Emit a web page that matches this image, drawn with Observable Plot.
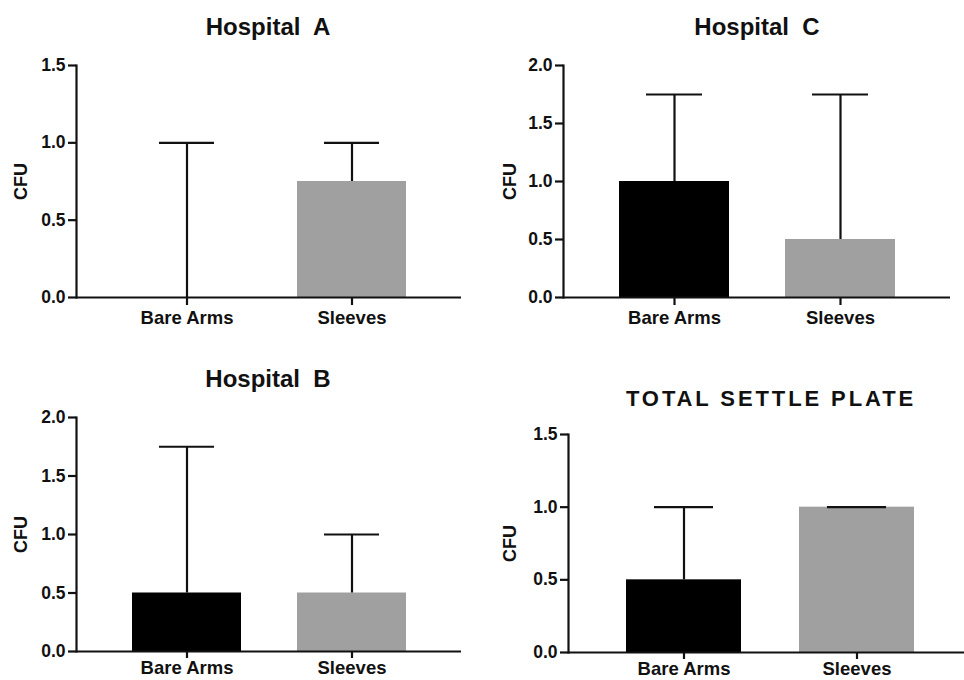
<!DOCTYPE html>
<html>
<head>
<meta charset="utf-8">
<script src="https://cdn.jsdelivr.net/npm/d3@7"></script>
<script src="https://cdn.jsdelivr.net/npm/@observablehq/plot@0.6"></script>
<style>
  html, body { margin: 0; padding: 0; background: #fff; }
  #wrap { position: relative; width: 964px; height: 680px; overflow: hidden; background: #fff;
          font-family: "Liberation Sans", Arial, Helvetica, sans-serif; }
  .panel { position: absolute; }
  .title { position: absolute; width: 360px; text-align: center; font-weight: bold; color: #111;
           font-size: 24px; line-height: 24px; white-space: pre; }
  .title.wide { font-size: 22px; letter-spacing: 2.9px; }
</style>
</head>
<body>
<div id="wrap"></div>
<script>
// ---- data ----
const groups = ["Bare Arms", "Sleeves"];
const barColors = ["#000000", "#a0a0a0"];

const titles = ["Hospital  A", "Hospital  C", "Hospital  B", "TOTAL SETTLE PLATE"];

const hospitalA_mean = [0.0, 0.75];
const hospitalA_err  = [1.0, 0.25];
const hospitalA_ticks = [0.0, 0.5, 1.0, 1.5];

const hospitalC_mean = [1.0, 0.5];
const hospitalC_err  = [0.75, 1.25];
const hospitalC_ticks = [0.0, 0.5, 1.0, 1.5, 2.0];

const hospitalB_mean = [0.5, 0.5];
const hospitalB_err  = [1.25, 0.5];
const hospitalB_ticks = [0.0, 0.5, 1.0, 1.5, 2.0];

const total_mean = [0.5, 1.0];
const total_err  = [0.5, 0.0];
const total_ticks = [0.0, 0.5, 1.0, 1.5];

const yLabel = "CFU";

// ---- drawing ----
const wrap = document.getElementById("wrap");

function panel(o) {
  const data = groups.map((g, i) => ({group: g, mean: o.means[i], top: o.means[i] + o.errs[i]}));
  const yMax = o.ticks[o.ticks.length - 1];
  const plot = Plot.plot({
    width: o.w, height: o.h,
    marginTop: o.mt, marginBottom: o.mb, marginLeft: o.ml, marginRight: o.mr,
    style: {fontFamily: '"Liberation Sans", Arial, Helvetica, sans-serif', fontWeight: "bold",
            fontSize: "17px", color: "#111", background: "transparent", overflow: "visible"},
    x: {domain: groups, paddingInner: o.pi, paddingOuter: o.po, label: null, axis: null},
    y: {domain: [0, yMax], label: null, axis: null},
    color: {domain: groups, range: barColors},
    marks: [
      Plot.barY(data, {x: "group", y: "mean", fill: "group"}),
      Plot.ruleX(data, {x: "group", y1: "mean", y2: "top", stroke: "#111", strokeWidth: 2.2}),
      Plot.tickY(data, {x: "group", y: "top", stroke: "#111", strokeWidth: 2.2, inset: o.capInset}),
      Plot.axisY({ticks: o.ticks, tickFormat: d3.format(".1f"), tickSize: 8, tickPadding: 3,
                  strokeWidth: 2.2, stroke: "#111", fontSize: 17.5, label: null}),
      Plot.axisX({tickSize: o.xts, tickPadding: o.xtp, strokeWidth: 2.2, stroke: "#111", fontSize: 18.5, label: null}),
      Plot.ruleY([0], {stroke: "#111", strokeWidth: 2.2}),
      Plot.frame({anchor: "left", stroke: "#111", strokeWidth: 2.2}),
      Plot.text([yLabel], {frameAnchor: "left", dx: -o.labelDx, rotate: -90, text: d => d,
                           textAnchor: "middle", lineAnchor: "middle",
                           fontSize: 18, fontWeight: "bold", fill: "#111"})
    ]
  });
  plot.classList.add("panel");
  plot.style.left = o.left + "px";
  plot.style.top = o.top + "px";
  wrap.appendChild(plot);

  const t = document.createElement("div");
  t.className = "title" + (o.wide ? " wide" : "");
  t.textContent = o.title;
  t.style.left = (o.tx - 180) + "px";
  t.style.top = (o.ty - 12) + "px";
  wrap.appendChild(t);
}

panel({title: titles[0], tx: 268, ty: 27, means: hospitalA_mean, errs: hospitalA_err, ticks: hospitalA_ticks,
       left: 0, top: 40, w: 480, h: 300, ml: 76, mr: 19, mt: 25, mb: 43, pi: 0.34, po: 0.33, capInset: 27,
       labelDx: 55, xts: 8, xtp: 5});
panel({title: titles[1], tx: 757, ty: 27, means: hospitalC_mean, errs: hospitalC_err, ticks: hospitalC_ticks,
       left: 480, top: 40, w: 484, h: 300, ml: 83, mr: 14, mt: 25, mb: 43, pi: 0.34, po: 0.33, capInset: 27,
       labelDx: 53, xts: 8, xtp: 5});
panel({title: titles[2], tx: 268, ty: 379, means: hospitalB_mean, errs: hospitalB_err, ticks: hospitalB_ticks,
       left: 0, top: 390, w: 480, h: 290, ml: 76, mr: 19, mt: 27, mb: 29, pi: 0.34, po: 0.33, capInset: 27,
       labelDx: 55, xts: 7, xtp: 2});
panel({title: titles[3], tx: 771, ty: 399, wide: true, means: total_mean, errs: total_err, ticks: total_ticks,
       left: 480, top: 410, w: 492, h: 270, ml: 88, mr: 0, mt: 24, mb: 28, pi: 0.335, po: 0.335, capInset: 28,
       labelDx: 58, xts: 7, xtp: 2});
</script>
</body>
</html>
